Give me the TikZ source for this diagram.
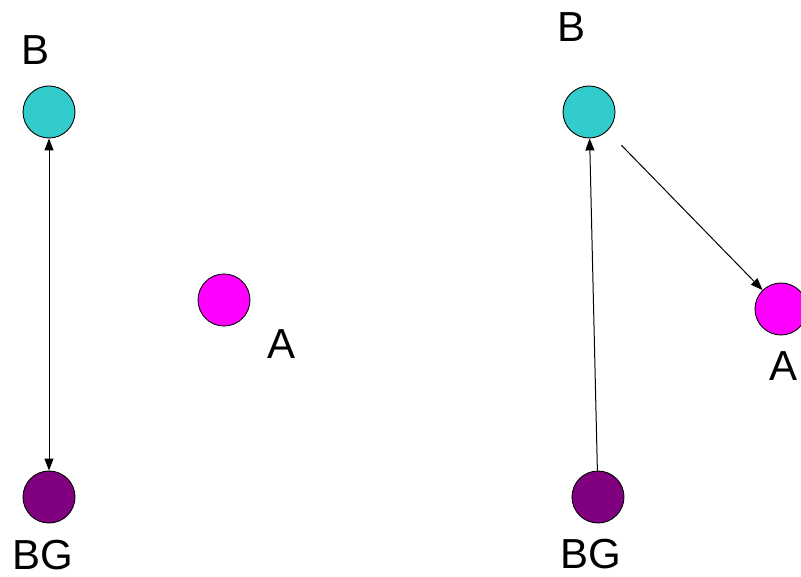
\documentclass[tikz,border=0pt]{standalone}
\usepackage{fontspec}
\setmainfont{Liberation Sans}
\usetikzlibrary{arrows.meta}
\definecolor{tealball}{RGB}{51,204,204}
\definecolor{pinkball}{RGB}{255,0,255}
\definecolor{plumball}{RGB}{128,0,128}
\begin{document}
\begin{tikzpicture}[x=1pt,y=-1pt,
  ball/.style={circle,draw=black,line width=0.9pt,minimum size=52pt,inner sep=0pt},
  lbl/.style={font=\fontsize{42}{42}\selectfont,inner sep=0pt,anchor=center},
  link/.style={line width=1pt,draw=black}]
\path[use as bounding box] (0,0) rectangle (801,577);
\clip (0,0) rectangle (801,577);
% left configuration
\node[ball,fill=tealball] (b1) at (49,112) {};
\node[ball,fill=plumball] (g1) at (49,497) {};
\node[ball,fill=pinkball] (a1) at (224,300) {};
\node[lbl] (lb1) at (36,50) {B};
\node[lbl] (lg1) at (43,555) {BG};
\node[lbl] (la1) at (282,344) {A};
\draw[link,{Triangle[length=12pt,width=9pt]}-{Triangle[length=12pt,width=9pt]}] (b1) -- (g1);
% right configuration
\node[ball,fill=tealball] (b2) at (589,112) {};
\node[ball,fill=plumball] (g2) at (598,497) {};
\node[ball,fill=pinkball] (a2) at (781,309) {};
\node[lbl] (lb2) at (572,27) {B};
\node[lbl] (lg2) at (591,554) {BG};
\node[lbl] (la2) at (783,366) {A};
\draw[link,-{Triangle[length=12pt,width=9pt]}] (g2) -- (b2);
\draw[link,-{Triangle[length=12pt,width=9pt]},shorten <=20pt] (b2) -- (a2);
\end{tikzpicture}
\end{document}
